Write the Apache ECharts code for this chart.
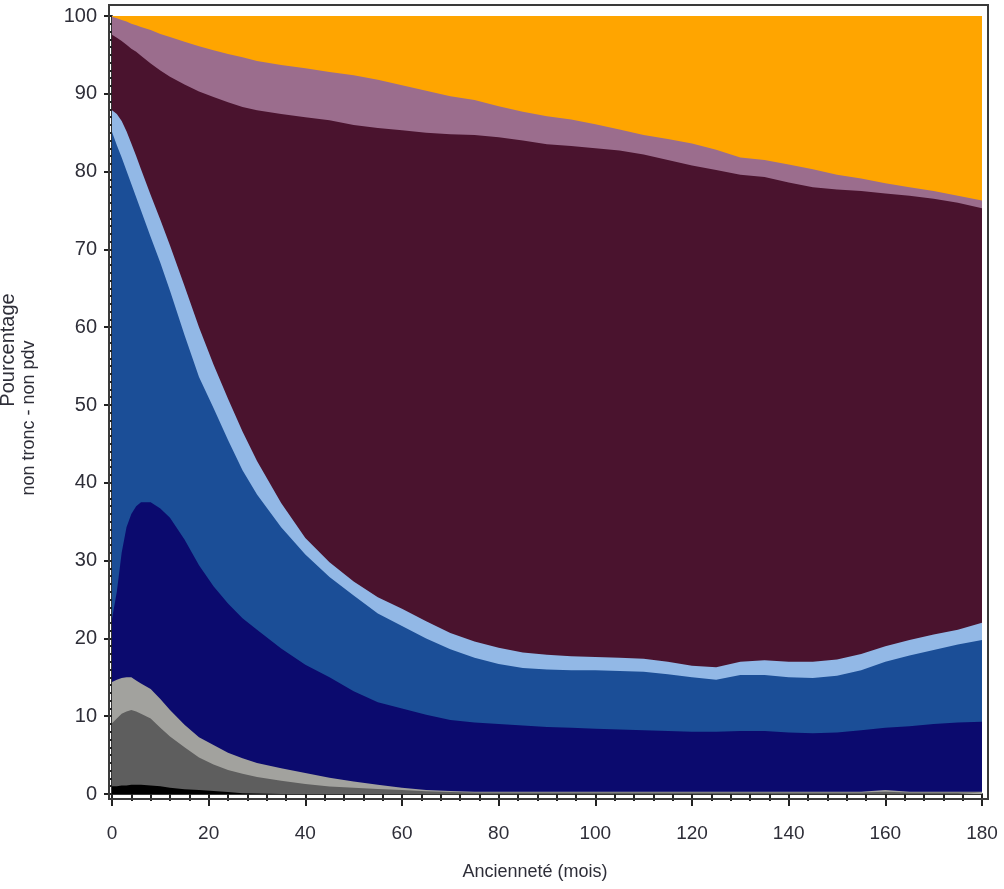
<!DOCTYPE html>
<html>
<head>
<meta charset="utf-8">
<script src="https://cdn.jsdelivr.net/npm/echarts@6/dist/echarts.min.js"></script>
<style>
  html, body { margin: 0; padding: 0; background: #ffffff; }
  #chart { width: 1004px; height: 889px; }
</style>
</head>
<body>
<div id="chart"></div>
<script>
// Seniority in months (x positions of the sampled points)
const months = [0, 1, 2, 3, 4, 5, 6, 8, 10, 12, 15, 18, 21, 24, 27, 30,
  35, 40, 45, 50, 55, 60, 65, 70, 75, 80, 85, 90, 95, 100, 105, 110, 115, 120,
  125, 130, 135, 140, 145, 150, 155, 160, 165, 170, 175, 180];

// Share of each state (percent), listed from the bottom layer up
const stateBlack = [1.0, 1.0, 1.1, 1.1, 1.2, 1.2, 1.2, 1.1, 1.0, 0.8, 0.6, 0.5, 0.4, 0.25, 0.1, 0.05,
  0, 0, 0, 0, 0, 0, 0, 0, 0, 0, 0, 0, 0, 0, 0, 0, 0, 0,
  0, 0, 0, 0, 0, 0, 0, 0, 0, 0, 0, 0];
const stateDarkGrey = [8.1, 8.7, 9.2, 9.5, 9.6, 9.4, 9.1, 8.6, 7.5, 6.6, 5.4, 4.2, 3.4, 2.85, 2.5, 2.15,
  1.7, 1.3, 0.95, 0.8, 0.65, 0.5, 0.35, 0.25, 0.2, 0.2, 0.2, 0.2, 0.2, 0.2, 0.2, 0.2, 0.2, 0.2,
  0.2, 0.2, 0.2, 0.2, 0.2, 0.2, 0.2, 0.3, 0.2, 0.2, 0.2, 0.2];
const stateLightGrey = [5.3, 5.0, 4.6, 4.4, 4.2, 4.0, 3.9, 3.8, 3.7, 3.4, 2.9, 2.6, 2.5, 2.2, 2.0, 1.8,
  1.6, 1.4, 1.15, 0.8, 0.55, 0.3, 0.15, 0.15, 0.1, 0.1, 0.1, 0.1, 0.1, 0.1, 0.1, 0.1, 0.1, 0.1,
  0.1, 0.1, 0.1, 0.1, 0.1, 0.1, 0.1, 0.2, 0.1, 0.1, 0.1, 0.1];
const stateNavy = [8.1, 11.3, 16.1, 19.3, 21.0, 22.4, 23.3, 24.0, 24.5, 24.7, 23.8, 22.1, 20.4, 19.2, 18.0, 17.1,
  15.4, 13.9, 12.9, 11.6, 10.6, 10.2, 9.7, 9.1, 8.9, 8.7, 8.5, 8.3, 8.2, 8.1, 8.0, 7.9, 7.8, 7.7,
  7.7, 7.8, 7.8, 7.6, 7.5, 7.6, 7.9, 8.0, 8.4, 8.7, 8.9, 9.0];
const stateBlue = [62.6, 57.4, 50.8, 45.8, 42.4, 39.7, 37.5, 34.1, 31.6, 29.2, 26.3, 24.2, 22.9, 21.0, 19.0, 17.4,
  15.6, 14.2, 12.9, 12.3, 11.4, 10.6, 9.8, 9.1, 8.3, 7.7, 7.4, 7.4, 7.4, 7.5, 7.5, 7.5, 7.3, 7.0,
  6.7, 7.2, 7.2, 7.1, 7.1, 7.3, 7.7, 8.5, 9.1, 9.5, 10.0, 10.5];
const stateLightBlue = [2.8, 4.0, 4.7, 5.1, 5.2, 5.3, 5.3, 5.4, 5.5, 5.8, 6.3, 6.4, 5.6, 5.3, 5.0, 4.3,
  3.1, 2.1, 1.9, 1.8, 2.1, 2.2, 2.2, 2.1, 2.1, 2.1, 2.0, 1.9, 1.8, 1.7, 1.7, 1.7, 1.6, 1.5,
  1.6, 1.7, 1.9, 2.0, 2.1, 2.1, 2.1, 2.0, 2.0, 2.0, 1.9, 2.2];
const stateMaroon = [9.7, 9.8, 10.3, 11.1, 12.2, 13.4, 14.6, 16.9, 19.2, 21.7, 25.9, 30.3, 34.4, 38.1, 41.7, 45.1,
  50.0, 54.1, 56.8, 58.7, 60.3, 61.5, 62.8, 64.1, 65.1, 65.6, 65.8, 65.6, 65.6, 65.4, 65.2, 64.8, 64.5, 64.3,
  63.9, 62.6, 62.1, 61.6, 61.0, 60.4, 59.5, 58.2, 57.1, 56.0, 54.9, 53.3];
const stateMauve = [2.3, 2.5, 2.7, 3.0, 3.2, 3.4, 3.7, 4.3, 4.7, 5.1, 5.5, 5.8, 6.0, 6.2, 6.4, 6.3,
  6.3, 6.3, 6.2, 6.4, 6.2, 5.8, 5.4, 4.9, 4.5, 4.0, 3.7, 3.6, 3.4, 3.1, 2.7, 2.5, 2.7, 2.8,
  2.6, 2.2, 2.2, 2.3, 2.3, 1.9, 1.6, 1.3, 1.1, 1.0, 0.9, 1.0];
const stateOrange = [0.1, 0.3, 0.5, 0.7, 1.0, 1.2, 1.4, 1.8, 2.3, 2.7, 3.3, 3.9, 4.4, 4.9, 5.3, 5.8,
  6.3, 6.7, 7.2, 7.6, 8.2, 8.9, 9.6, 10.3, 10.8, 11.6, 12.3, 12.9, 13.3, 13.9, 14.6, 15.3, 15.8, 16.4,
  17.2, 18.2, 18.5, 19.1, 19.7, 20.4, 20.9, 21.5, 22.0, 22.5, 23.1, 23.7];

// Axis ticks
const xTicks = { min: 0, max: 180, step: 20 };
const yTicks = { min: 0, max: 100, step: 10 };

const xTitle = 'Ancienneté (mois)';
const yTitleLines = ['Pourcentage', 'non tronc - non pdv'];

// Bottom-to-top order of the states and their fill colours
const layers = [
  { name: 'black', values: stateBlack, color: '#000000' },
  { name: 'darkGrey', values: stateDarkGrey, color: '#5e5e5e' },
  { name: 'lightGrey', values: stateLightGrey, color: '#a2a29e' },
  { name: 'navy', values: stateNavy, color: '#0b0a6e' },
  { name: 'blue', values: stateBlue, color: '#1b4e97' },
  { name: 'lightBlue', values: stateLightBlue, color: '#92b8e6' },
  { name: 'maroon', values: stateMaroon, color: '#4a132e' },
  { name: 'mauve', values: stateMauve, color: '#9b6d8d' },
  { name: 'orange', values: stateOrange, color: '#ffa500' }
];

// Running totals: each layer is drawn as the area under its cumulative top edge,
// highest layer first so the lower ones paint over it.
const running = months.map(() => 0);
const cumulative = layers.map(layer => {
  const top = layer.values.map((v, i) => (running[i] += v));
  return { name: layer.name, color: layer.color, top: top.slice() };
});

const chart = echarts.init(document.getElementById('chart'), null, { renderer: 'canvas' });

const labelFont = 'Liberation Sans, Arial, sans-serif';
const textColour = '#2e2e38';

const option = {
  animation: false,
  backgroundColor: '#ffffff',
  grid: { left: 112, right: 22, top: 16, bottom: 95, containLabel: false },
  xAxis: {
    type: 'value',
    min: xTicks.min, max: xTicks.max, interval: xTicks.step,
    offset: 5,
    axisLine: { show: true, lineStyle: { color: '#333333', width: 2 } },
    axisTick: { show: true, length: 12, lineStyle: { color: '#222222', width: 2 } },
    minorTick: { show: true, splitNumber: 5, length: 7, lineStyle: { color: '#222222', width: 2 } },
    splitLine: { show: false },
    minorSplitLine: { show: false },
    axisLabel: { fontSize: 19, fontFamily: labelFont, color: textColour, margin: 25 }
  },
  yAxis: {
    type: 'value',
    min: yTicks.min, max: yTicks.max, interval: yTicks.step,
    offset: 3,
    axisLine: { show: true, lineStyle: { color: '#333333', width: 2 } },
    axisTick: { show: true, length: 8, lineStyle: { color: '#222222', width: 2 } },
    minorTick: { show: true, splitNumber: 10, length: 4, lineStyle: { color: '#222222', width: 2 } },
    splitLine: { show: false },
    minorSplitLine: { show: false },
    axisLabel: { fontSize: 20, fontFamily: labelFont, color: textColour, margin: 12 }
  },
  graphic: [
    {
      type: 'rect',
      shape: { x: 109, y: 5, width: 879, height: 794 },
      style: { fill: 'none', stroke: '#3a3a3a', lineWidth: 2 },
      silent: true,
      z: 100
    },
    {
      type: 'text',
      x: 535, y: 872,
      style: {
        text: xTitle, fontSize: 18, fontFamily: labelFont, fill: textColour,
        align: 'center', verticalAlign: 'middle'
      }
    },
    {
      type: 'text',
      x: 8, y: 350, rotation: Math.PI / 2,
      style: {
        text: yTitleLines[0], fontSize: 20, fontFamily: labelFont, fill: textColour,
        align: 'center', verticalAlign: 'middle'
      }
    },
    {
      type: 'text',
      x: 29, y: 418, rotation: Math.PI / 2,
      style: {
        text: yTitleLines[1], fontSize: 18, fontFamily: labelFont, fill: textColour,
        align: 'center', verticalAlign: 'middle'
      }
    }
  ],
  series: cumulative.slice().reverse().map((layer, k) => ({
    name: layer.name,
    type: 'line',
    symbol: 'none',
    smooth: false,
    z: 2 + k,
    lineStyle: { width: 0 },
    areaStyle: { color: layer.color, opacity: 1, origin: 'start' },
    itemStyle: { color: layer.color },
    data: months.map((m, i) => [m, layer.top[i]])
  }))
};

chart.setOption(option);
</script>
</body>
</html>
